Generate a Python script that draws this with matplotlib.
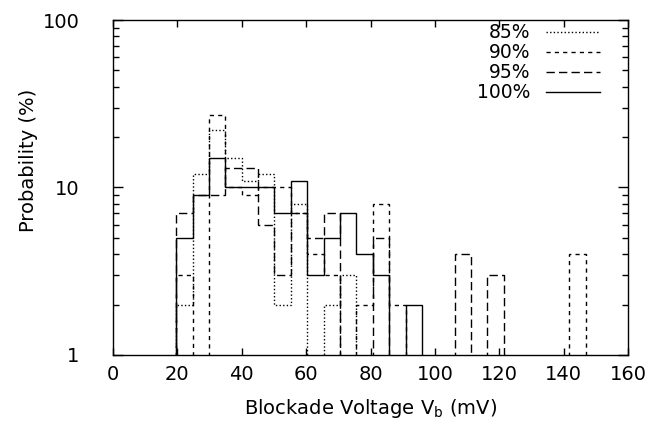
import numpy as np
import matplotlib
matplotlib.use("Agg")
from matplotlib import pyplot as plt
from matplotlib.ticker import FixedLocator, FixedFormatter, LogLocator, NullFormatter

plt.rcParams['font.family'] = ['DejaVu Sans']
plt.rcParams['mathtext.default'] = 'regular'

# bin edges (mV)
edges = [19.6, 24.7, 29.8, 34.9, 40.0, 45.1, 50.1, 55.2, 60.3, 65.4, 70.5,
         75.6, 80.7, 85.8, 90.9, 95.9, 101.0, 106.1, 111.2, 116.3, 121.4,
         126.5, 131.6, 136.6, 141.7, 146.8]

# probability (%) per bin, one list per series
p85 = [2, 12, 22, 15, 11, 12, 2, 8, 0, 2, 3, 0, 0, 0, 0, 0, 0, 0, 0, 0, 0, 0, 0, 0, 0]
p90 = [3, 0, 27, 10, 9, 10, 10, 7, 4, 3, 0, 2, 8, 2, 0, 0, 0, 0, 0, 0, 0, 0, 0, 0, 4]
p95 = [7, 9, 9, 13, 13, 6, 3, 7, 5, 7, 0, 0, 5, 0, 0, 0, 0, 4, 0, 3, 0, 0, 0, 0, 0]
p100 = [5, 9, 15, 10, 10, 10, 7, 11, 3, 5, 7, 4, 3, 0, 2, 0, 0, 0, 0, 0, 0, 0, 0, 0, 0]

labels = ['85%', '90%', '95%', '100%']
styles = [(0, (1, 1.6)), (0, (3, 3)), (0, (6, 3)), '-']

fig = plt.figure(figsize=(6.52, 4.22), dpi=100)
ax = fig.add_axes([0.1733, 0.1588, 0.79, 0.7938])

floor = 0.1  # empty bins drop below the axis
for vals, lab, ls in zip([p85, p90, p95, p100], labels, styles):
    v = np.array(vals, dtype=float)
    v[v <= 0] = floor
    ax.stairs(v, edges, baseline=floor, color='black', linestyle=ls,
              linewidth=1.0, label=lab)

ax.set_yscale('log')
ax.set_xlim(0, 160)
ax.set_ylim(1, 100)
ax.set_xticks(np.arange(0, 161, 20))
ax.yaxis.set_major_locator(FixedLocator([1, 10, 100]))
ax.yaxis.set_major_formatter(FixedFormatter(['1', '10', '100']))
ax.yaxis.set_minor_locator(LogLocator(base=10, subs=np.arange(2, 10)))
ax.yaxis.set_minor_formatter(NullFormatter())

fs = 14
ax.tick_params(which='both', direction='in', top=True, right=True,
               labelsize=fs, width=1.0)
ax.tick_params(axis='y', which='major', length=7, pad=24)
ax.tick_params(axis='y', which='minor', length=4)
ax.tick_params(axis='x', which='major', length=5, pad=7)
for s in ax.spines.values():
    s.set_linewidth(1.0)

ax.set_xlabel('Blockade Voltage V$_b$ (mV)', fontsize=fs)
ax.xaxis.set_label_coords(0.5, -0.125)
ax.set_ylabel('Probability (%)', fontsize=fs)
ax.yaxis.set_label_coords(-0.145, 0.58)

ax.legend(loc='upper right', frameon=False, markerfirst=False, fontsize=13.5,
          handlelength=2.9, handletextpad=0.8, labelspacing=0.05,
          borderpad=0, borderaxespad=0, bbox_to_anchor=(0.9455, 0.99))

fig.savefig('out.png', dpi=100)
